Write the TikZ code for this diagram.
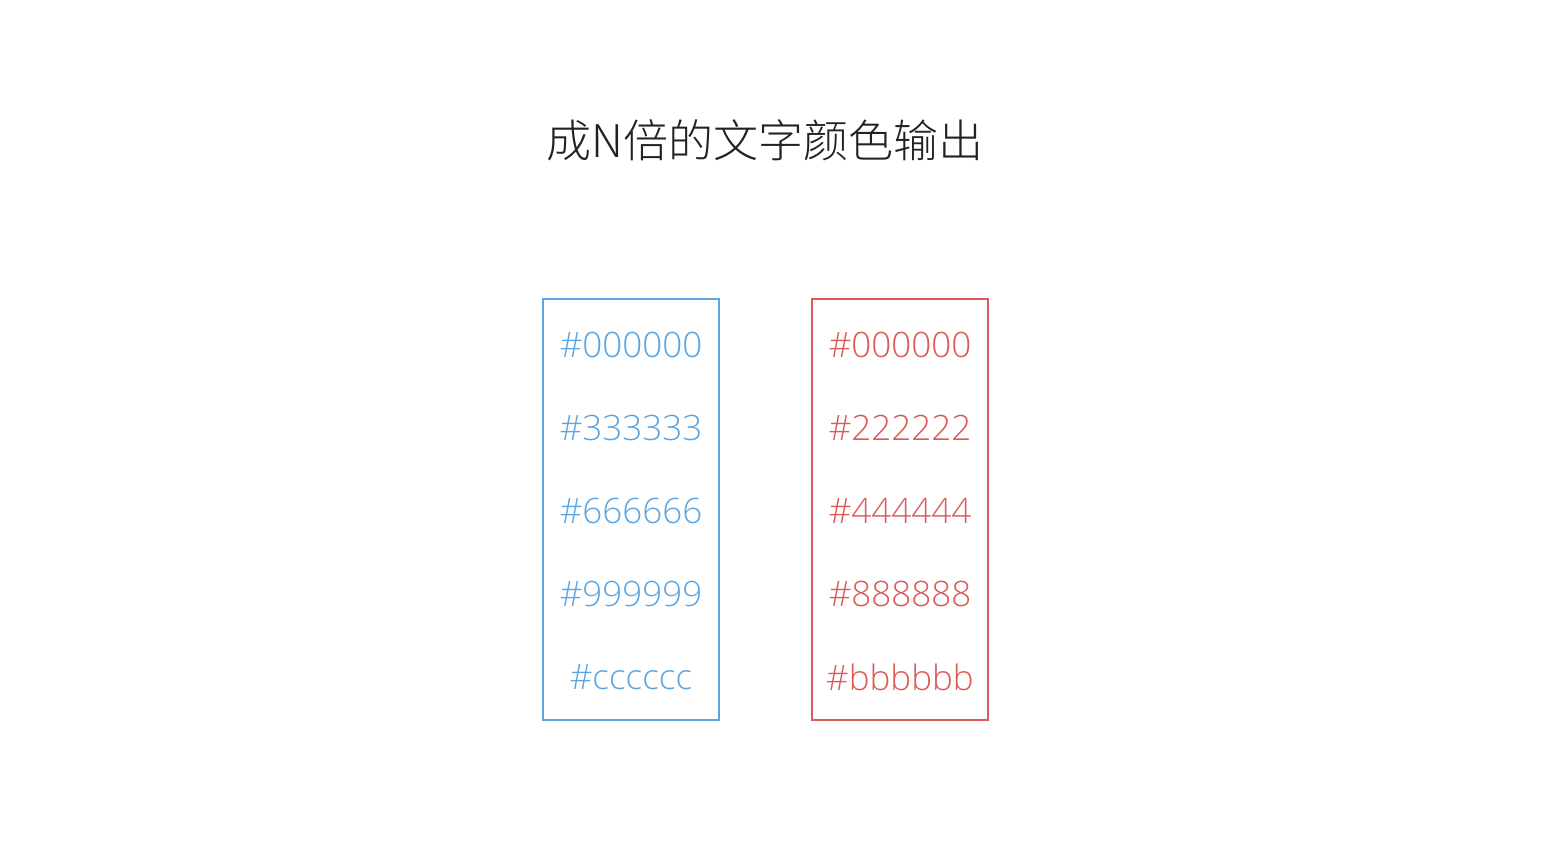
\documentclass[tikz,border=0pt]{standalone}
\usepackage{fontspec}
\setmainfont{Open Sans}[UprightFont=* Light]
\newfontfamily\cjk{Noto Sans CJK SC}[UprightFont=* Light]
\definecolor{bluec}{HTML}{5AA5E2}
\definecolor{redc}{HTML}{DA5A57}
\definecolor{titlec}{HTML}{222222}
\begin{document}
\begin{tikzpicture}[x=1pt,y=-1pt,
  box/.style={draw=#1, line width=1.6pt},
  val/.style={text=#1, font=\fontsize{35}{40}\selectfont, anchor=center, inner sep=0pt}]
\useasboundingbox (0,0) rectangle (1554,856);
\node[text=titlec, font=\cjk\fontsize{45}{50}\selectfont, inner sep=0pt] (title) at (765,140) {成N倍的文字颜色输出};
\draw[box=bluec] (543,299) rectangle (719,720);
\draw[box=redc] (812,299) rectangle (988,720);
\node[val=bluec] (b1) at (631,345) {\#000000};
\node[val=bluec] (b2) at (631,428) {\#333333};
\node[val=bluec] (b3) at (631,511) {\#666666};
\node[val=bluec] (b4) at (631,594) {\#999999};
\node[val=bluec] (b5) at (631,677) {\#cccccc};
\node[val=redc] (r1) at (900,345) {\#000000};
\node[val=redc] (r2) at (900,428) {\#222222};
\node[val=redc] (r3) at (900,511) {\#444444};
\node[val=redc] (r4) at (900,594) {\#888888};
\node[val=redc] (r5) at (900,677) {\#bbbbbb};
\end{tikzpicture}
\end{document}
